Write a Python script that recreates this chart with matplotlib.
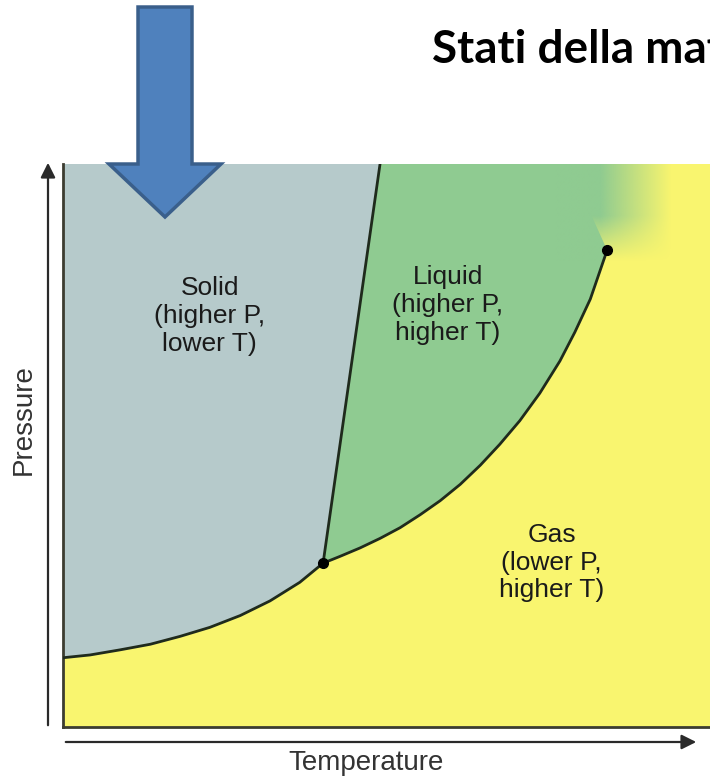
import numpy as np
import matplotlib
matplotlib.use('Agg')
import matplotlib.pyplot as plt
from matplotlib.patches import Polygon, FancyArrow

# Diagramma di fase (unità arbitrarie 0-100)
subl_T = [0, 4.2, 8.8, 13.5, 18.1, 22.7, 27.4, 32.0, 36.6, 40.2]
subl_P = [12.3, 12.8, 13.7, 14.7, 16.1, 17.7, 19.8, 22.4, 25.7, 29.1]

vap_T = [40.2, 42.8, 45.9, 49.0, 52.1, 55.2, 58.3, 61.4, 64.5, 67.5, 70.6,
         73.7, 76.8, 79.1, 81.5, 84.1]
vap_P = [29.1, 30.3, 31.8, 33.5, 35.4, 37.7, 40.2, 43.1, 46.5, 50.2, 54.4,
         59.3, 65.0, 70.1, 76.0, 84.7]

melt_T = [40.2, 49.0]
melt_P = [29.1, 100.0]

triple_pt = (40.2, 29.1)
critical_pt = (84.1, 84.7)

labels = ['Solid\n(higher P,\nlower T)',
          'Liquid\n(higher P,\nhigher T)',
          'Gas\n(lower P,\nhigher T)']
label_T = [22.7, 59.5, 75.5]
label_P = [73.0, 75.0, 29.2]

c_solid = '#B6CACB'
c_liquid = '#8FCB91'
c_gas = '#F9F56F'
c_line = '#1f2a1c'
font_lbl = ['Liberation Sans Narrow', 'Liberation Sans']

fig = plt.figure(figsize=(7.1, 7.8), dpi=100)
ax = fig.add_axes([63/710, 53/780, 647/710, 563/780])
ax.set_xlim(0, 100)
ax.set_ylim(0, 100)
ax.set_facecolor(c_gas)
for s in ['top', 'right']:
    ax.spines[s].set_visible(False)
for s in ['left', 'bottom']:
    ax.spines[s].set_color('#3c3c30')
    ax.spines[s].set_linewidth(2)
ax.set_xticks([])
ax.set_yticks([])

# solido
solid = list(zip(subl_T, subl_P)) + [(melt_T[1], melt_P[1]), (0, 100)]
ax.add_patch(Polygon(solid, closed=True, fc=c_solid, ec='none', zorder=1))

# liquido
liq = [(melt_T[1], melt_P[1]), (critical_pt[0] - 6, 100)] + \
      list(zip(vap_T[::-1], vap_P[::-1]))
ax.add_patch(Polygon(liq, closed=True, fc=c_liquid, ec='none', zorder=1))

# sfumatura supercritica
gx = np.linspace(critical_pt[0] - 8, 100, 240)
gy = np.linspace(critical_pt[1] - 3, 100, 120)
GX, GY = np.meshgrid(gx, gy)
a_x = np.clip((critical_pt[0] + 10 - GX) / 11, 0, 1)
a_y = np.clip((GY - critical_pt[1] + 2) / 8, 0, 1)
rgba = np.zeros(GX.shape + (4,))
rgba[..., :3] = matplotlib.colors.to_rgb(c_liquid)
rgba[..., 3] = a_x * a_y
ax.imshow(rgba, extent=[gx[0], gx[-1], gy[0], gy[-1]], origin='lower',
          aspect='auto', zorder=2, interpolation='bilinear')

# curve
ax.plot(subl_T, subl_P, color=c_line, lw=2, zorder=3)
ax.plot(vap_T, vap_P, color=c_line, lw=2, zorder=3)
ax.plot(melt_T, melt_P, color=c_line, lw=2, zorder=3)
ax.plot(*triple_pt, 'o', color='black', ms=7, zorder=4)
ax.plot(*critical_pt, 'o', color='black', ms=7, zorder=4)

for txt, t, p in zip(labels, label_T, label_P):
    ax.text(t, p, txt, ha='center', va='center', fontsize=19, family=font_lbl,
            color='#1a1a1a', linespacing=1.2, zorder=5)

# assi con frecce
arrow_kw = dict(arrowstyle='-|>', color='#2a2a2a', lw=1.6, mutation_scale=22)
ax.annotate('', xy=(48, 620), xytext=(48, 52), xycoords='figure pixels',
            textcoords='figure pixels', arrowprops=arrow_kw, annotation_clip=False)
ax.annotate('', xy=(699, 38), xytext=(63, 38), xycoords='figure pixels',
            textcoords='figure pixels', arrowprops=arrow_kw, annotation_clip=False)

fig.text(24/710, 1 - 420/780, 'Pressure', rotation=90, ha='center', va='center',
         fontsize=20, family=font_lbl, color='#333333')
fig.text(366/710, 1 - 763/780, 'Temperature', ha='center', va='center',
         fontsize=20, family=font_lbl, color='#333333')

# titolo (tagliato dal bordo come nell'originale)
fig.text(432/710, 1 - 63/780, 'Stati della materia', ha='left', va='baseline',
         fontsize=33, fontweight='bold', family=['Lato', 'DejaVu Sans'])

# freccia blu
fig.patches.append(FancyArrow(1.65, 7.73, 0, -2.10, width=0.54, head_width=1.12,
                              head_length=0.53, length_includes_head=True,
                              transform=fig.dpi_scale_trans, fc='#4F81BD',
                              ec='#3A5F8B', lw=2.5, zorder=10))

fig.savefig('out.png', dpi=100)
